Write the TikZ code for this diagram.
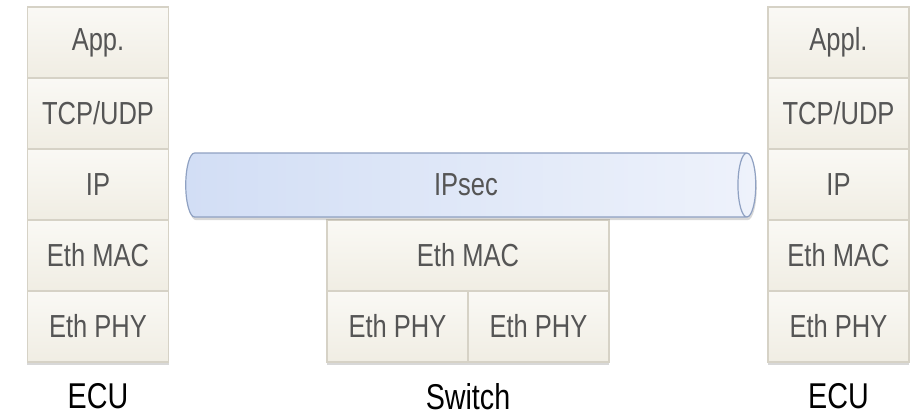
\documentclass[tikz,border=0pt]{standalone}
\usepackage{fontspec}
\setmainfont{Liberation Sans}[FakeStretch=0.8]
\usetikzlibrary{positioning}
\usetikzlibrary{shapes.geometric}
\usetikzlibrary{shadows}
\definecolor{layertop}{HTML}{FAF9F5}
\definecolor{layerbot}{HTML}{F0EDE3}
\definecolor{layerline}{HTML}{D6D2C6}
\definecolor{layertext}{HTML}{555555}
\definecolor{tunnelleft}{HTML}{D2DEF5}
\definecolor{tunnelright}{HTML}{EEF2FB}
\definecolor{tunnelline}{HTML}{8FA1C2}
\tikzset{
    layer/.style = {draw=layerline,line width=1.5bp,top color=layertop,bottom color=layerbot,
        minimum width=141bp,minimum height=71bp,inner sep=0,outer sep=0,text=layertext,
        font=\fontsize{32}{32}\selectfont,
        drop shadow={shadow xshift=0bp,shadow yshift=-3bp,opacity=0.3}},
    widelayer/.style = {layer,minimum width=282bp},
    tunnel/.style = {cylinder,draw=tunnelline,line width=1.2bp,left color=tunnelleft,right color=tunnelright,
        minimum height=570bp,minimum width=64bp,aspect=0.8,inner sep=0,text=layertext,
        font=\fontsize{32}{32}\selectfont,
        drop shadow={shadow xshift=1bp,shadow yshift=-3bp,opacity=0.3}},
    caption/.style = {font=\fontsize{36}{36}\selectfont,text=black,inner sep=0}
}
\begin{document}
\begin{tikzpicture}[x=1bp,y=-1bp]
    \useasboundingbox[fill=white] (0,0) rectangle (920,417);
    % Left ECU
    \node[layer] (lapp) at (98,42.5) {App.};
    \node[layer,below=0pt of lapp] (ltcp) {TCP/UDP};
    \node[layer,below=0pt of ltcp] (lip) {IP};
    \node[layer,below=0pt of lip] (lmac) {Eth MAC};
    \node[layer,below=0pt of lmac] (lphy) {Eth PHY};
    % Right ECU
    \node[layer] (rapp) at (838.5,42.5) {Appl.};
    \node[layer,below=0pt of rapp] (rtcp) {TCP/UDP};
    \node[layer,below=0pt of rtcp] (rip) {IP};
    \node[layer,below=0pt of rip] (rmac) {Eth MAC};
    \node[layer,below=0pt of rmac] (rphy) {Eth PHY};
    % Switch
    \node[widelayer] (smac) at (468,255.5) {Eth MAC};
    \node[layer,anchor=north west] (sphya) at (smac.south west) {Eth PHY};
    \node[layer,anchor=north east] (sphyb) at (smac.south east) {Eth PHY};
    % Tunnel
    \node[tunnel] (ipsec) at (466,185) {IPsec};
    % Captions
    \foreach \stack/\name in {lphy/ECU,smac/Switch,rphy/ECU}
        \node[caption,below=21bp of \stack.south |- lphy.south] {\name};
\end{tikzpicture}
\end{document}
